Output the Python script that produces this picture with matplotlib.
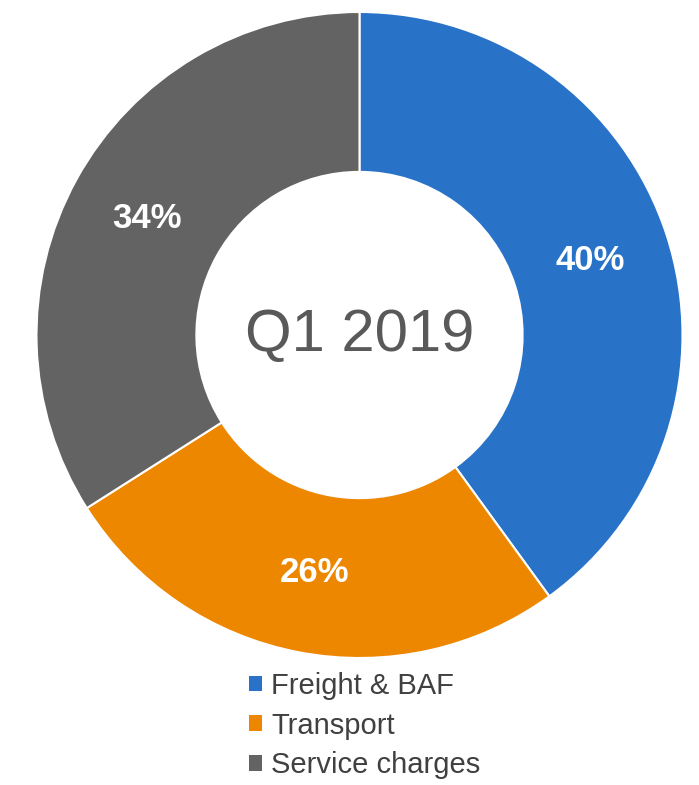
import matplotlib
matplotlib.use("Agg")
import matplotlib.pyplot as plt
from matplotlib.patches import Patch

categories = ["Freight & BAF", "Transport", "Service charges"]
values = [40, 26, 34]
colors = ["#2872C8", "#EE8700", "#636363"]
center_label = "Q1 2019"

plt.rcParams['font.family'] = ['Liberation Sans', 'DejaVu Sans']

W, H = 699, 785
fig = plt.figure(figsize=(W / 100, H / 100), dpi=100)
cx, cy, R = 359.5, 335, 323
ax = fig.add_axes([(cx - R) / W, (H - cy - R) / H, 2 * R / W, 2 * R / H])
wedges, texts, autotexts = ax.pie(
    values, colors=colors, startangle=90, counterclock=False, radius=1,
    autopct=lambda p: f"{p:.0f}%", pctdistance=0.75,
    wedgeprops=dict(width=0.495, edgecolor="white", linewidth=1.5),
    textprops=dict(color="white", fontsize=25, fontweight="bold"))
ax.set_xlim(-1, 1)
ax.set_ylim(-1, 1)
ax.set_aspect("equal")
ax.axis("off")
ax.text(0, 0, center_label, ha="center", va="center", fontsize=43, color="#595959")

handles = [Patch(facecolor=c, edgecolor="none") for c in colors]
fig.legend(handles, categories, loc="upper left", bbox_to_anchor=(249 / W, 1 - 672 / H),
           frameon=False, fontsize=21, handlelength=0.45, handleheight=0.45,
           handletextpad=0.3, labelspacing=0.4, borderpad=0, borderaxespad=0,
           labelcolor="#404040")

fig.savefig("out.png", dpi=100)
